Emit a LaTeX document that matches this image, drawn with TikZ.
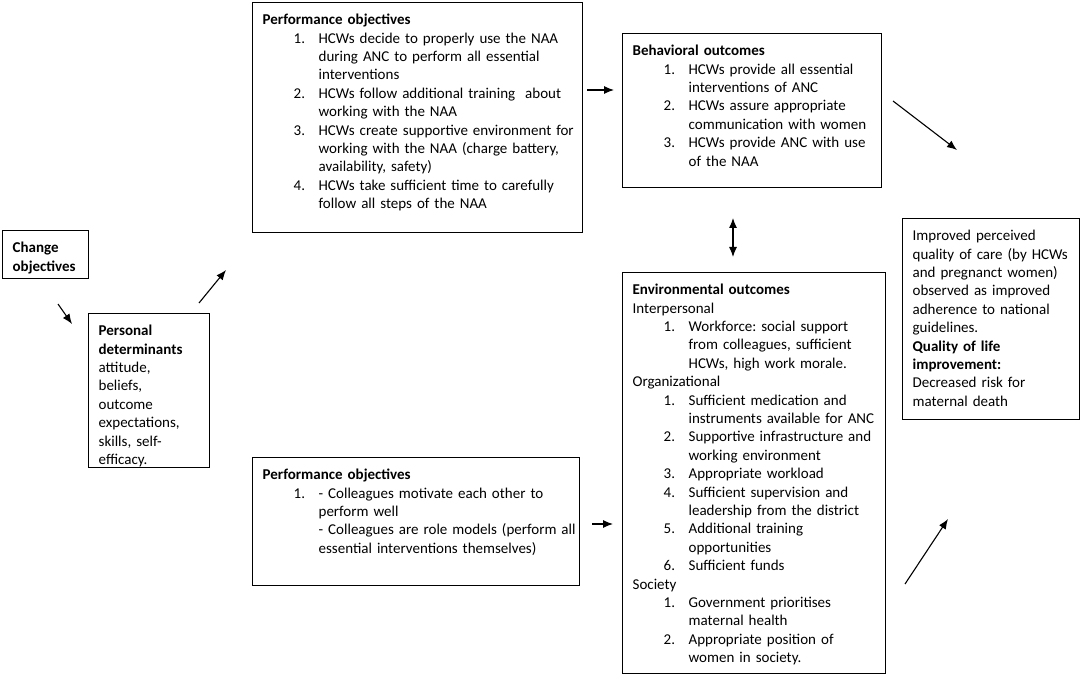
\documentclass[tikz,border=0pt]{standalone}
\usepackage{fontspec}
\setmainfont{Carlito}
\usetikzlibrary{arrows.meta}

\newcommand{\nitem}[2]{\hspace*{31pt}\makebox[25pt][l]{#1}\mbox{#2}}
\newcommand{\ncont}[1]{\hspace*{56pt}\mbox{#1}}

\tikzset{
  box/.style={draw, line width=1.3pt, anchor=north west, align=left,
    inner xsep=10pt, inner ysep=0pt, text height=22pt,
    font=\fontsize{15}{18.4}\selectfont\frenchspacing},
  flow/.style={-{Latex[length=10pt,width=8pt]}, line width=1.1pt}
}

\begin{document}
\begin{tikzpicture}[x=1pt, y=-1pt]

    \useasboundingbox (0, 0) rectangle (1084, 676);

    % Change objectives
    \node[box, text width=66pt, text depth=26pt] (change) at (2, 230)
      {\textbf{Change}\\\textbf{objectives}};

    % Personal determinants
    \node[box, text width=101pt, text depth=132pt] (personal) at (88, 313)
      {\textbf{Personal}\\\textbf{determinants}\\attitude,\\beliefs,\\outcome\\expectations,\\skills, self-\\efficacy.};

    % Performance objectives (HCWs)
    \node[box, text width=310pt, text depth=208pt] (perfhcw) at (252, 2)
      {\textbf{Performance objectives}\\
       \nitem{1.}{HCWs decide to properly use the NAA}\\
       \ncont{during ANC to perform all essential}\\
       \ncont{interventions}\\
       \nitem{2.}{HCWs follow additional training \ about}\\
       \ncont{working with the NAA}\\
       \nitem{3.}{HCWs create supportive environment for}\\
       \ncont{working with the NAA (charge battery,}\\
       \ncont{availability, safety)}\\
       \nitem{4.}{HCWs take sufficient time to carefully}\\
       \ncont{follow all steps of the NAA}};

    % Performance objectives (colleagues)
    \node[box, text width=307pt, text depth=106pt] (perfcol) at (252, 457)
      {\textbf{Performance objectives}\\
       \nitem{1.}{- Colleagues motivate each other to}\\
       \ncont{perform well}\\
       \ncont{- Colleagues are role models (perform all}\\
       \ncont{essential interventions themselves)}};

    % Behavioral outcomes
    \node[box, text width=239pt, text depth=132pt] (behav) at (622, 33)
      {\textbf{Behavioral outcomes}\\
       \nitem{1.}{HCWs provide all essential}\\
       \ncont{interventions of ANC}\\
       \nitem{2.}{HCWs assure appropriate}\\
       \ncont{communication with women}\\
       \nitem{3.}{HCWs provide ANC with use}\\
       \ncont{of the NAA}};

    % Environmental outcomes
    \node[box, text width=243pt, text depth=379pt] (environ) at (622, 272)
      {\textbf{Environmental outcomes}\\
       Interpersonal\\
       \nitem{1.}{Workforce: social support}\\
       \ncont{from colleagues, sufficient}\\
       \ncont{HCWs, high work morale.}\\
       Organizational\\
       \nitem{1.}{Sufficient medication and}\\
       \ncont{instruments available for ANC}\\
       \nitem{2.}{Supportive infrastructure and}\\
       \ncont{working environment}\\
       \nitem{3.}{Appropriate workload}\\
       \nitem{4.}{Sufficient supervision and}\\
       \ncont{leadership from the district}\\
       \nitem{5.}{Additional training}\\
       \ncont{opportunities}\\
       \nitem{6.}{Sufficient funds}\\
       Society\\
       \nitem{1.}{Government prioritises}\\
       \ncont{maternal health}\\
       \nitem{2.}{Appropriate position of}\\
       \ncont{women in society.}};

    % Quality of care / quality of life
    \node[box, text width=157pt, text depth=179pt] (quality) at (902, 218)
      {Improved perceived\\
       quality of care (by HCWs\\
       and pregnanct women)\\
       observed as improved\\
       adherence to national\\
       guidelines.\\
       \textbf{Quality of life}\\
       \textbf{improvement:}\\
       Decreased risk for\\
       maternal death};

    % Arrow ends
    \coordinate (changeout) at (58, 304);
    \coordinate (personalin) at (72, 324);
    \coordinate (personalout) at (199, 303);
    \coordinate (perfhcwin) at (226, 270);
    \coordinate (perfhcwout) at (587, 90);
    \coordinate (behavin) at (614, 90);
    \coordinate (perfcolout) at (592, 524);
    \coordinate (environin) at (613, 524);
    \coordinate (behavbelow) at (733, 218);
    \coordinate (environabove) at (733, 257);
    \coordinate (behavout) at (893, 101);
    \coordinate (qualityabove) at (957, 150);
    \coordinate (environout) at (905, 584);
    \coordinate (qualitybelow) at (948, 519);

    % Arrows
    \draw[flow] (changeout) -- (personalin);
    \draw[flow] (personalout) -- (perfhcwin);
    \draw[flow] (perfhcwout) -- (behavin);
    \draw[flow] (perfcolout) -- (environin);
    \draw[flow, {Latex[length=10pt,width=8pt]}-{Latex[length=10pt,width=8pt]}] (behavbelow) -- (environabove);
    \draw[flow] (behavout) -- (qualityabove);
    \draw[flow] (environout) -- (qualitybelow);

\end{tikzpicture}
\end{document}
